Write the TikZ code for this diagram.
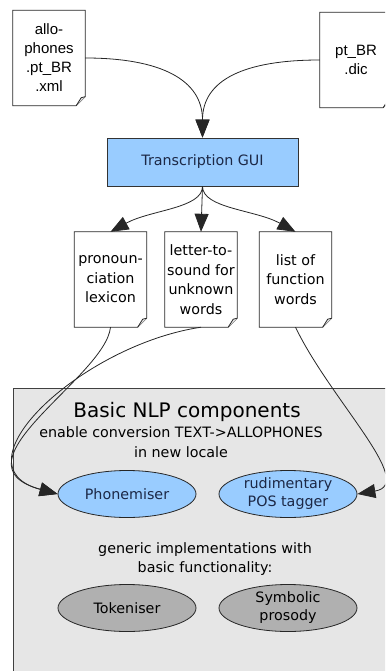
\documentclass[tikz,border=0pt]{standalone}
\usepackage{fontspec}
\setmainfont{DejaVu Sans}
\newfontfamily\arialfont{Liberation Sans}
\usetikzlibrary{shapes.geometric,arrows.meta}
\definecolor{guiblue}{RGB}{153,204,255}
\definecolor{compgray}{RGB}{230,230,230}
\definecolor{implgray}{RGB}{176,176,176}
\definecolor{darktext}{RGB}{28,40,70}

\tikzset{
  docnode/.style={minimum width=72pt, minimum height=95pt, inner sep=0pt, align=center, font=\fontsize{14.3}{19.5}\selectfont},
  topdoc/.style={docnode, font=\arialfont\fontsize{15}{19}\selectfont},
  docline/.style={draw=black!85, line width=0.8pt},
  compnode/.style={ellipse, draw=black!85, line width=0.8pt, minimum width=138pt, minimum height=47pt, inner sep=0pt, align=center, font=\fontsize{14.3}{18}\selectfont},
  flow/.style={->, >={Triangle[length=18pt,width=14pt]}, line width=0.8pt, black!85},
}

\begin{document}
\begin{tikzpicture}[x=1pt,y=-1pt]
\useasboundingbox (0,0) rectangle (385,671);
\clip (0,0) rectangle (385,671);
% NLP components area
\draw[fill=compgray, draw=black!75, line width=0.8pt] (13,388) rectangle (400,690);
% input files and GUI
\node[topdoc] (allo) at (49,58) {allo-\\phones\\.pt\_BR\\.xml};
\node[topdoc] (dic) at (356,60) {pt\_BR\\.dic};
\node[draw=black!80, line width=0.8pt, fill=guiblue, minimum width=191pt, minimum height=48pt, text=darktext, font=\fontsize{14.3}{18}\selectfont] (gui) at (202.5,162) {Transcription GUI};
\node[docnode] (lex) at (110.5,279.5) {pronoun-\\ciation\\lexicon};
\node[docnode] (lts) at (201,279.5) {letter-to-\\sound for\\unknown\\words};
\node[docnode] (fw) at (295.5,279.5) {list of\\function\\words};
\foreach \d in {allo,dic,lex,lts,fw} {
  \draw[docline] (\d.north west) -- (\d.north east) -- ([yshift=9pt]\d.south east) -- ([xshift=-9pt]\d.south east) -- (\d.south west) -- cycle;
  \draw[docline, fill=black!10] ([xshift=-9pt]\d.south east) .. controls ([xshift=-6pt,yshift=4pt]\d.south east) .. ([xshift=-4pt,yshift=8pt]\d.south east) -- ([yshift=9pt]\d.south east);
}
% components
\node[font=\fontsize{20}{24}\selectfont] (title) at (187,412) {Basic NLP components};
\node[font=\fontsize{14.3}{19.5}\selectfont, align=center] (enable) at (181,442) {enable conversion TEXT->ALLOPHONES\\in new locale};
\node[compnode, fill=guiblue, text=darktext] (ph) at (127,494) {Phonemiser};
\node[compnode, fill=guiblue, text=darktext] (pos) at (288,494) {rudimentary\\POS tagger};
\node[font=\fontsize{14.3}{19.5}\selectfont, align=center] (generic) at (205,559) {generic implementations with\\basic functionality:};
\node[compnode, fill=implgray] (tok) at (127,608) {Tokeniser};
\node[compnode, fill=implgray] (sym) at (288,608) {Symbolic\\prosody};
% connectors
\draw[flow] (allo.east) .. controls +(75,0) and +(0,-58) .. (gui.north);
\draw[flow] (dic.west) .. controls +(-75,0) and +(0,-58) .. (gui.north);
\draw[flow] (gui.south) .. controls +(0,22) and +(40,-22) .. (lex.north);
\draw[flow] (gui.south) -- (lts.north);
\draw[flow] (gui.south) .. controls +(0,22) and +(-40,-22) .. (fw.north);
\draw[flow] (lex.south) .. controls +(-5,50) and +(-110,-30) .. (ph.west);
\draw[flow] (lts.south) .. controls +(-120,18) and +(-105,-28) .. (ph.west);
\draw[flow] (fw.south) .. controls +(35,73) and +(60,-10) .. (pos.east);
\end{tikzpicture}
\end{document}
